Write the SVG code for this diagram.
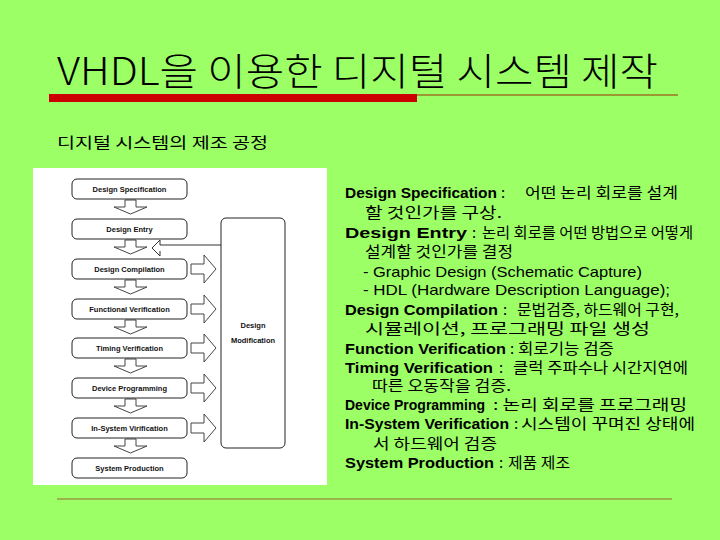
<svg xmlns="http://www.w3.org/2000/svg" width="720" height="540" viewBox="0 0 720 540">
<style>
.ko{font-family:"Noto Sans CJK KR","Noto Sans",sans-serif;fill:#000}
.b{font-family:"Liberation Sans",Arial,sans-serif;font-weight:bold;font-size:15px;fill:#000}
.r{font-family:"Liberation Sans",Arial,sans-serif;font-size:15px;fill:#000}
.k{font-size:15px}
.box{fill:#fff;stroke:#222;stroke-width:1}
.arr{fill:#fff;stroke:#444;stroke-width:1}
.bt{font-family:"Liberation Sans",Arial,sans-serif;font-weight:bold;font-size:7.5px;fill:#111;text-anchor:middle}
</style>
<rect width="720" height="540" fill="#9CFF66"/>
<text class="ko" x="57" y="85" font-size="38" font-weight="300" textLength="601" lengthAdjust="spacingAndGlyphs">VHDL을 이용한 디지털 시스템 제작</text>
<line x1="417" y1="95" x2="678" y2="95" stroke="#993300" stroke-width="1"/>
<rect x="49" y="94" width="368" height="8" fill="#CC0000"/>
<text class="ko" x="57" y="148" font-size="15" textLength="211" lengthAdjust="spacingAndGlyphs">디지털 시스템의 제조 공정</text>
<rect x="33" y="168" width="294" height="317" fill="#fff"/>
<g id="connectors">
<polygon class="arr" points="125,200 136,200 136,207 147,207 130.5,214 114,207 125,207"/>
<polygon class="arr" points="125,240 136,240 136,247 147,247 130.5,254 114,247 125,247"/>
<polygon class="arr" points="125,280 136,280 136,287 147,287 130.5,294 114,287 125,287"/>
<polygon class="arr" points="125,320 136,320 136,327 147,327 130.5,334 114,327 125,327"/>
<polygon class="arr" points="125,359 136,359 136,366 147,366 130.5,373 114,366 125,366"/>
<polygon class="arr" points="125,399 136,399 136,406 147,406 130.5,413 114,406 125,406"/>
<polygon class="arr" points="125,439 136,439 136,446 147,446 130.5,453 114,446 125,446"/>
<polyline points="221,245 160,245 160,240 152,248 160,256 160,251" fill="none" stroke="#333" stroke-width="1"/>
<polygon class="arr" points="191,264 204,264 204,255 216,269 204,283 204,274 191,274"/>
<polygon class="arr" points="191,304 204,304 204,295 216,309 204,323 204,314 191,314"/>
<polygon class="arr" points="191,343 204,343 204,334 216,348 204,362 204,353 191,353"/>
<polygon class="arr" points="191,383 204,383 204,374 216,388 204,402 204,393 191,393"/>
<polygon class="arr" points="191,423 204,423 204,414 216,428 204,442 204,433 191,433"/>
</g>
<g id="n1"><rect class="box" x="72" y="179" width="115" height="20" rx="5"/><text class="bt" x="129.5" y="192">Design Specification</text></g>
<g id="n2"><rect class="box" x="72" y="219" width="115" height="20" rx="5"/><text class="bt" x="129.5" y="232">Design Entry</text></g>
<g id="n3"><rect class="box" x="72" y="259" width="115" height="20" rx="5"/><text class="bt" x="129.5" y="272">Design Compilation</text></g>
<g id="n4"><rect class="box" x="72" y="299" width="115" height="20" rx="5"/><text class="bt" x="129.5" y="312">Functional Verification</text></g>
<g id="n5"><rect class="box" x="72" y="338" width="115" height="20" rx="5"/><text class="bt" x="129.5" y="351">Timing Verification</text></g>
<g id="n6"><rect class="box" x="72" y="378" width="115" height="20" rx="5"/><text class="bt" x="129.5" y="391">Device Programming</text></g>
<g id="n7"><rect class="box" x="72" y="418" width="115" height="20" rx="5"/><text class="bt" x="129.5" y="431">In-System Virification</text></g>
<g id="n8"><rect class="box" x="72" y="458" width="115" height="20" rx="5"/><text class="bt" x="129.5" y="471">System Production</text></g>
<g id="n9"><rect class="box" x="221" y="218" width="64" height="230" rx="5"/><text class="bt" x="253" y="328">Design</text><text class="bt" x="253" y="343">Modification</text></g>
<g id="notes">
<text class="b" x="345" y="198" textLength="152" lengthAdjust="spacingAndGlyphs">Design Specification</text>
<text class="ko k" x="501" y="198">:</text>
<text class="ko k" x="525" y="198" textLength="153" lengthAdjust="spacingAndGlyphs">어떤 논리 회로를 설계</text>
<text class="ko k" x="365" y="218" textLength="137" lengthAdjust="spacingAndGlyphs">할 것인가를 구상.</text>
<text class="b" x="345" y="238" textLength="122" lengthAdjust="spacingAndGlyphs">Design Entry</text>
<text class="ko k" x="472" y="238">:</text>
<text class="ko k" x="482" y="238" textLength="211" lengthAdjust="spacingAndGlyphs">논리 회로를 어떤 방법으로 어떻게</text>
<text class="ko k" x="365" y="257" textLength="148" lengthAdjust="spacingAndGlyphs">설계할 것인가를 결정</text>
<text class="r" x="363" y="277" textLength="279" lengthAdjust="spacingAndGlyphs">- Graphic Design (Schematic Capture)</text>
<text class="r" x="363" y="295" textLength="307" lengthAdjust="spacingAndGlyphs">- HDL (Hardware Description Language);</text>
<text class="b" x="345" y="315" textLength="153" lengthAdjust="spacingAndGlyphs">Design Compilation</text>
<text class="ko k" x="503" y="315">:</text>
<text class="ko k" x="517" y="315" textLength="162" lengthAdjust="spacingAndGlyphs">문법검증, 하드웨어 구현,</text>
<text class="ko k" x="365" y="334" textLength="285" lengthAdjust="spacingAndGlyphs">시뮬레이션, 프로그래밍 파일 생성</text>
<text class="b" x="345" y="354" textLength="161" lengthAdjust="spacingAndGlyphs">Function Verification</text>
<text class="ko k" x="510" y="354">:</text>
<text class="ko k" x="518" y="354" textLength="96" lengthAdjust="spacingAndGlyphs">회로기능 검증</text>
<text class="b" x="345" y="373" textLength="148" lengthAdjust="spacingAndGlyphs">Timing Verification</text>
<text class="ko k" x="499" y="373">:</text>
<text class="ko k" x="513" y="373" textLength="175" lengthAdjust="spacingAndGlyphs">클럭 주파수나 시간지연에</text>
<text class="ko k" x="372" y="391" textLength="139" lengthAdjust="spacingAndGlyphs">따른 오동작을 검증.</text>
<text class="b" x="345" y="410" textLength="140" lengthAdjust="spacingAndGlyphs">Device Programming</text>
<text class="ko k" x="493" y="410" textLength="194" lengthAdjust="spacingAndGlyphs">: 논리 회로를 프로그래밍</text>
<text class="b" x="345" y="429" textLength="164" lengthAdjust="spacingAndGlyphs">In-System Verification</text>
<text class="ko k" x="514" y="429">:</text>
<text class="ko k" x="521" y="429" textLength="174" lengthAdjust="spacingAndGlyphs">시스템이 꾸며진 상태에</text>
<text class="ko k" x="373" y="449" textLength="124" lengthAdjust="spacingAndGlyphs">서 하드웨어 검증</text>
<text class="b" x="345" y="468" textLength="149" lengthAdjust="spacingAndGlyphs">System Production</text>
<text class="ko k" x="499" y="468">:</text>
<text class="ko k" x="508" y="468" textLength="62" lengthAdjust="spacingAndGlyphs">제품 제조</text>
</g>
<line x1="57" y1="499" x2="672" y2="499" stroke="#996633" stroke-width="1"/>
</svg>
